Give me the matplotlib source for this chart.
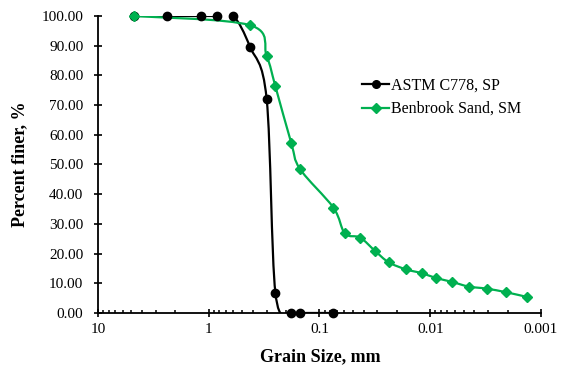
"""Grain size distribution: ASTM C778 sand vs Benbrook sand (semi-log, reversed x)."""

import numpy as np
import matplotlib

matplotlib.use("Agg")
import matplotlib.pyplot as plt
from matplotlib.path import Path
from matplotlib.patches import PathPatch
from matplotlib.lines import Line2D
from matplotlib.ticker import FixedLocator, LogLocator, NullFormatter, FuncFormatter

plt.rcParams["font.family"] = ["Liberation Serif", "DejaVu Serif"]

# sieve analysis, ASTM C778 sand
astm_size = [4.75, 2.36, 1.18, 0.85, 0.6, 0.425, 0.3, 0.25, 0.18, 0.15, 0.075]
astm_finer = [100.0, 100.0, 100.0, 100.0, 100.0, 89.7, 72.1, 6.8, 0.0, 0.0, 0.0]

# sieve + hydrometer, Benbrook sand
benb_size = [4.75, 0.425, 0.3, 0.25, 0.18, 0.15, 0.075, 0.059, 0.043, 0.0315,
             0.0238, 0.0166, 0.0119, 0.0089, 0.0064, 0.0045, 0.0031, 0.00207, 0.00134]
benb_finer = [100.0, 96.9, 86.5, 76.3, 57.3, 48.5, 35.5, 26.8, 25.4, 20.9,
              17.1, 14.7, 13.4, 11.8, 10.5, 8.9, 8.2, 7.0, 5.4]

x_ticks = [10, 1, 0.1, 0.01, 0.001]
x_labels = ["10", "1", "0.1", "0.01", "0.001"]
y_ticks = list(range(0, 101, 10))

BLACK = "#000000"
GREEN = "#00B050"


def smooth_path(xs, ys):
    """Excel-style smoothed line: Catmull-Rom bezier built in (log10 x, y) space."""
    lx = np.log10(np.asarray(xs, float))
    y = np.asarray(ys, float)
    n = len(lx)
    verts = [(xs[0], ys[0])]
    codes = [Path.MOVETO]
    for i in range(n - 1):
        i0 = max(i - 1, 0)
        i3 = min(i + 2, n - 1)
        c1 = (lx[i] + (lx[i + 1] - lx[i0]) / 6, y[i] + (y[i + 1] - y[i0]) / 6)
        c2 = (lx[i + 1] - (lx[i3] - lx[i]) / 6, y[i + 1] - (y[i3] - y[i]) / 6)
        verts += [(10 ** c1[0], c1[1]), (10 ** c2[0], c2[1]), (xs[i + 1], ys[i + 1])]
        codes += [Path.CURVE4] * 3
    return Path(verts, codes)


fig = plt.figure(figsize=(5.66, 3.69), dpi=100)
ax = fig.add_axes([0.1731, 0.1518, 0.7827, 0.8049])
ax.set_xscale("log")
ax.set_xlim(10, 0.001)
ax.set_ylim(0, 100)

for xs, ys, c, mk, ms in [(astm_size, astm_finer, BLACK, "o", 6),
                          (benb_size, benb_finer, GREEN, "D", 5)]:
    ax.add_patch(PathPatch(smooth_path(xs, ys), fill=False, edgecolor=c,
                           linewidth=1.6, zorder=3))
    ax.plot(xs, ys, linestyle="none", marker=mk, markersize=ms, color=c,
            zorder=4, clip_on=False)

for side in ("top", "right"):
    ax.spines[side].set_visible(False)
for side in ("left", "bottom"):
    ax.spines[side].set_linewidth(1.3)

ax.xaxis.set_major_locator(FixedLocator(x_ticks))
ax.set_xticklabels(x_labels)
ax.xaxis.set_minor_locator(LogLocator(base=10, subs=np.arange(2, 10)))
ax.xaxis.set_minor_formatter(NullFormatter())
ax.set_yticks(y_ticks)
ax.yaxis.set_major_formatter(FuncFormatter(lambda v, p: f"{v:.2f}"))

ax.tick_params(axis="both", which="major", direction="inout", length=6,
               width=1.2, labelsize=11)
ax.tick_params(axis="y", which="major", pad=7.5)
ax.tick_params(axis="x", which="major", pad=4)
ax.tick_params(axis="x", which="minor", direction="in", length=2.5, width=1.1)

fig.text(320 / 566, 1 - 361.7 / 369, "Grain Size, mm", ha="center",
         va="baseline", fontsize=13, fontweight="bold")
fig.text(20 / 566, 1 - 164 / 369, "Percent finer, %", ha="center",
         va="center", rotation=90, fontsize=13, fontweight="bold")

handles = [
    Line2D([], [], color=BLACK, marker="o", markersize=5.5, linewidth=1.6),
    Line2D([], [], color=GREEN, marker="D", markersize=5, linewidth=1.6),
]
fig.legend(handles, ["ASTM C778, SP", "Benbrook Sand, SM"], loc="center left",
           bbox_to_anchor=(362 / 566, 1 - 97.5 / 369), frameon=False,
           fontsize=11.5, handlelength=1.7, handletextpad=0.1,
           labelspacing=0.45, borderpad=0, borderaxespad=0)

fig.savefig("out.png", dpi=100)
